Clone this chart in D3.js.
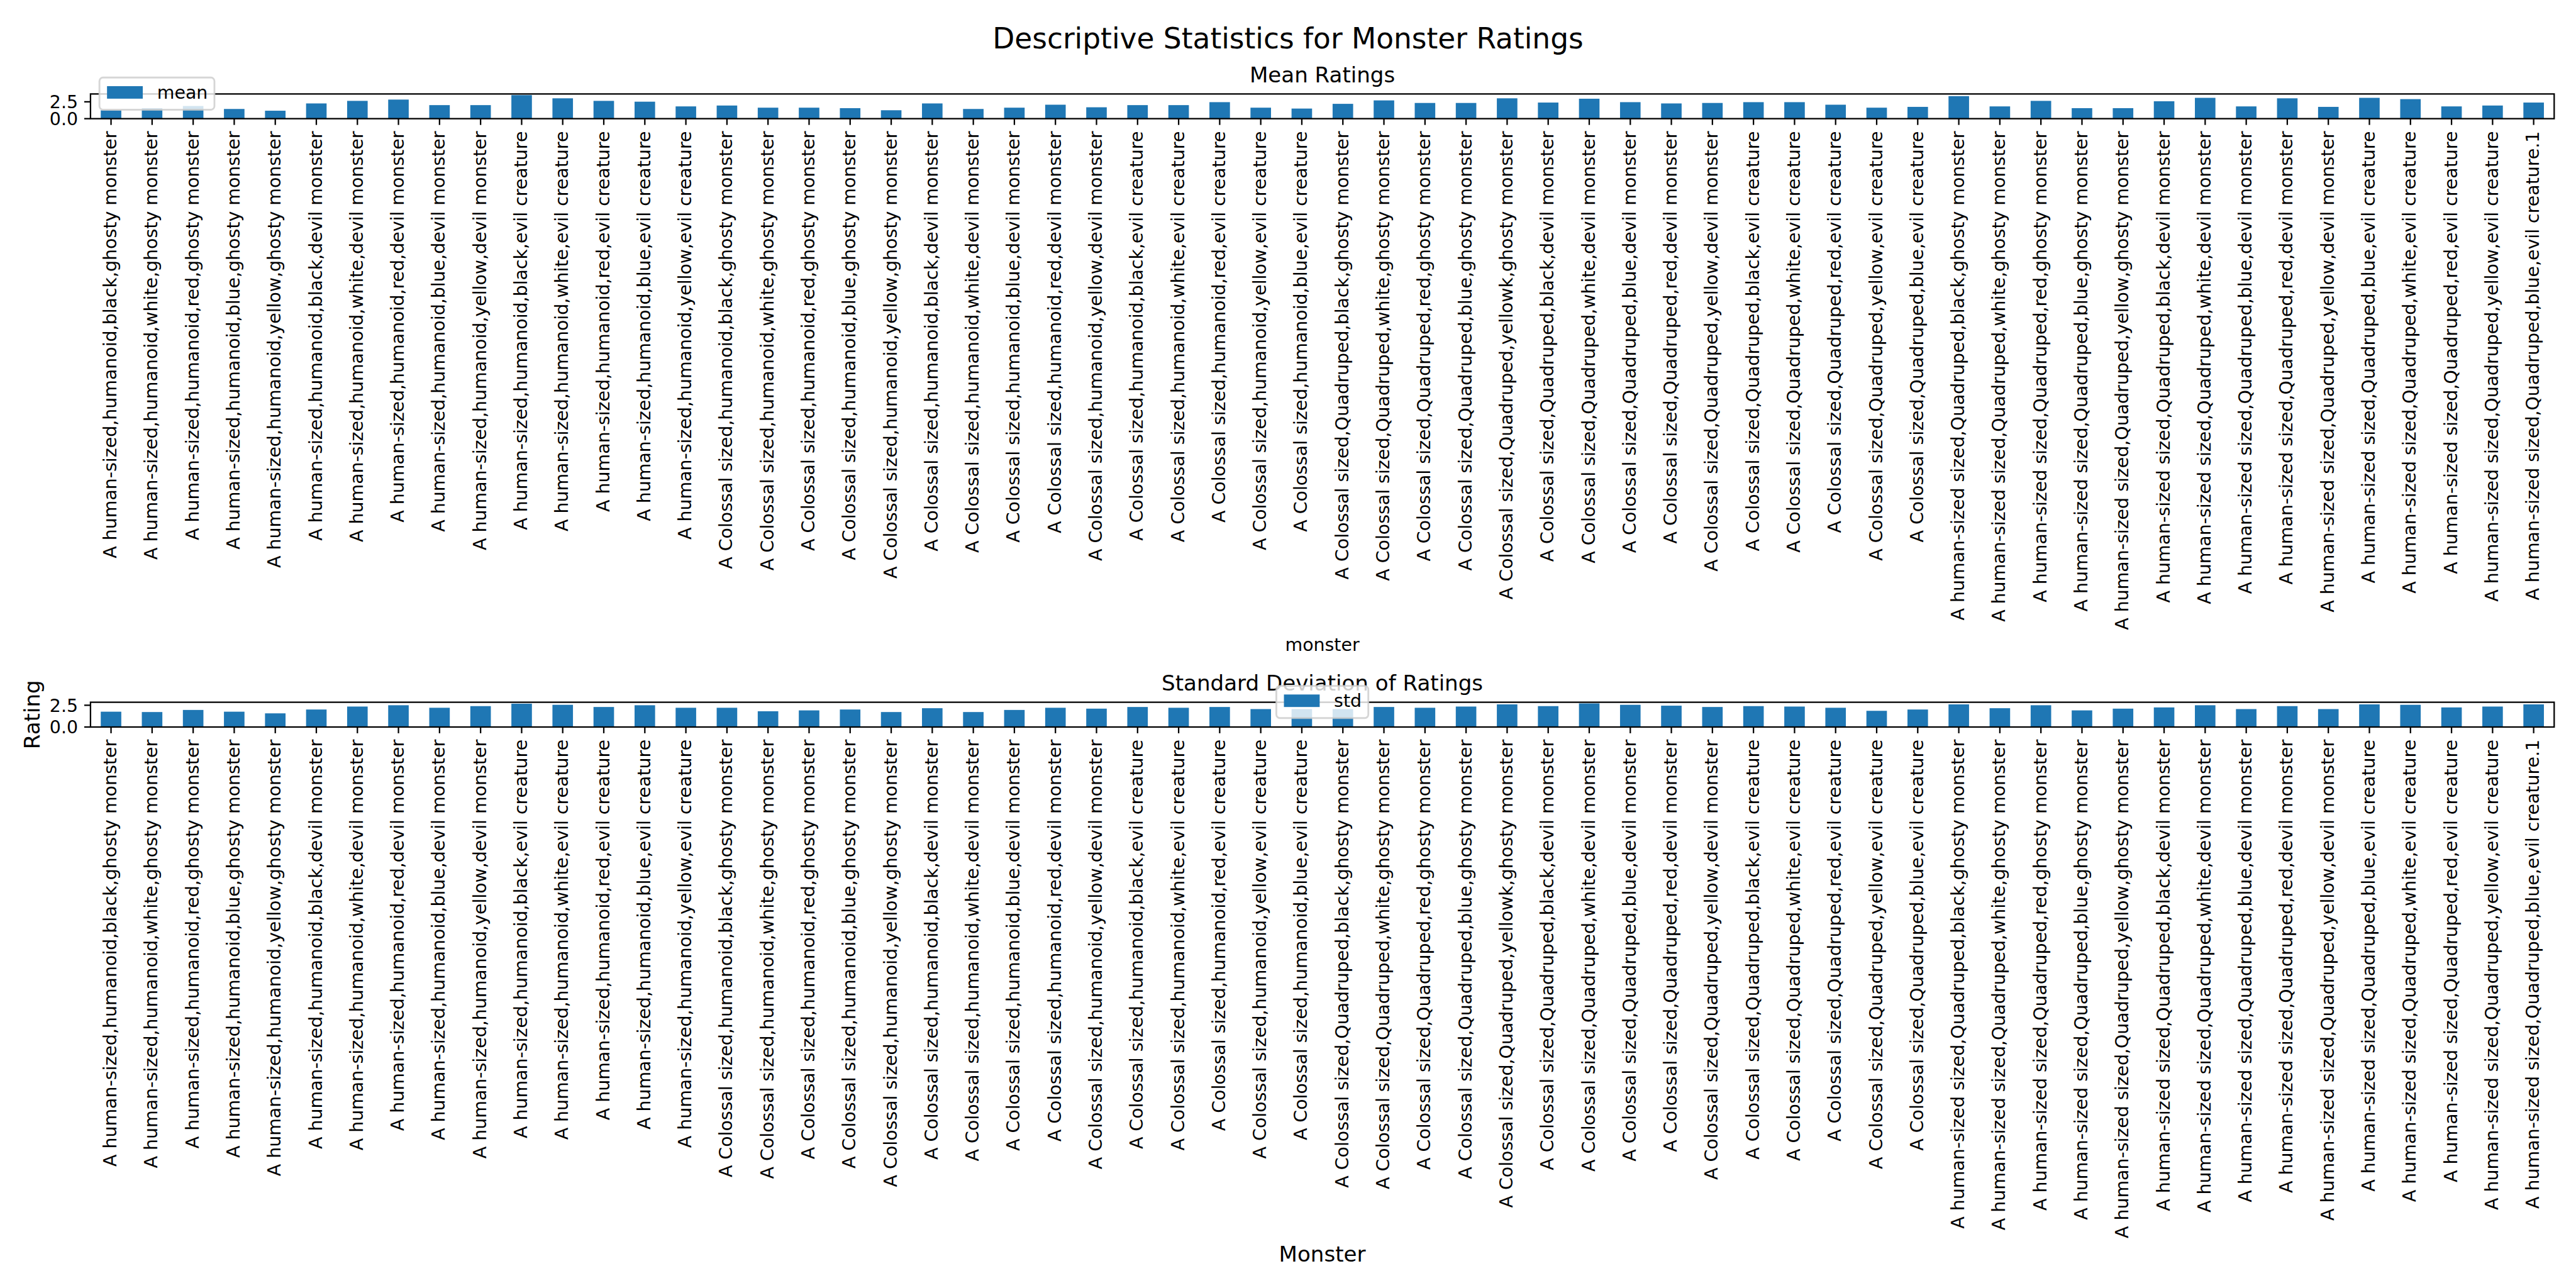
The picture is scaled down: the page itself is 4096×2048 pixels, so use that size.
<!DOCTYPE html>
<html><head><meta charset="utf-8">
<script src="https://cdn.jsdelivr.net/npm/d3@7"></script>
<style>
body{margin:0;background:#fff}
svg{display:block}
text{font-family:"DejaVu Sans",sans-serif;fill:#000}
</style>
</head><body>
<svg id="chart" width="4096" height="2048"></svg>
<script>
// ---------------- data ----------------
const monsters = [
  "A human-sized,humanoid,black,ghosty monster",
  "A human-sized,humanoid,white,ghosty monster",
  "A human-sized,humanoid,red,ghosty monster",
  "A human-sized,humanoid,blue,ghosty monster",
  "A human-sized,humanoid,yellow,ghosty monster",
  "A human-sized,humanoid,black,devil monster",
  "A human-sized,humanoid,white,devil monster",
  "A human-sized,humanoid,red,devil monster",
  "A human-sized,humanoid,blue,devil monster",
  "A human-sized,humanoid,yellow,devil monster",
  "A human-sized,humanoid,black,evil creature",
  "A human-sized,humanoid,white,evil creature",
  "A human-sized,humanoid,red,evil creature",
  "A human-sized,humanoid,blue,evil creature",
  "A human-sized,humanoid,yellow,evil creature",
  "A Colossal sized,humanoid,black,ghosty monster",
  "A Colossal sized,humanoid,white,ghosty monster",
  "A Colossal sized,humanoid,red,ghosty monster",
  "A Colossal sized,humanoid,blue,ghosty monster",
  "A Colossal sized,humanoid,yellow,ghosty monster",
  "A Colossal sized,humanoid,black,devil monster",
  "A Colossal sized,humanoid,white,devil monster",
  "A Colossal sized,humanoid,blue,devil monster",
  "A Colossal sized,humanoid,red,devil monster",
  "A Colossal sized,humanoid,yellow,devil monster",
  "A Colossal sized,humanoid,black,evil creature",
  "A Colossal sized,humanoid,white,evil creature",
  "A Colossal sized,humanoid,red,evil creature",
  "A Colossal sized,humanoid,yellow,evil creature",
  "A Colossal sized,humanoid,blue,evil creature",
  "A Colossal sized,Quadruped,black,ghosty monster",
  "A Colossal sized,Quadruped,white,ghosty monster",
  "A Colossal sized,Quadruped,red,ghosty monster",
  "A Colossal sized,Quadruped,blue,ghosty monster",
  "A Colossal sized,Quadruped,yellowk,ghosty monster",
  "A Colossal sized,Quadruped,black,devil monster",
  "A Colossal sized,Quadruped,white,devil monster",
  "A Colossal sized,Quadruped,blue,devil monster",
  "A Colossal sized,Quadruped,red,devil monster",
  "A Colossal sized,Quadruped,yellow,devil monster",
  "A Colossal sized,Quadruped,black,evil creature",
  "A Colossal sized,Quadruped,white,evil creature",
  "A Colossal sized,Quadruped,red,evil creature",
  "A Colossal sized,Quadruped,yellow,evil creature",
  "A Colossal sized,Quadruped,blue,evil creature",
  "A human-sized sized,Quadruped,black,ghosty monster",
  "A human-sized sized,Quadruped,white,ghosty monster",
  "A human-sized sized,Quadruped,red,ghosty monster",
  "A human-sized sized,Quadruped,blue,ghosty monster",
  "A human-sized sized,Quadruped,yellow,ghosty monster",
  "A human-sized sized,Quadruped,black,devil monster",
  "A human-sized sized,Quadruped,white,devil monster",
  "A human-sized sized,Quadruped,blue,devil monster",
  "A human-sized sized,Quadruped,red,devil monster",
  "A human-sized sized,Quadruped,yellow,devil monster",
  "A human-sized sized,Quadruped,blue,evil creature",
  "A human-sized sized,Quadruped,white,evil creature",
  "A human-sized sized,Quadruped,red,evil creature",
  "A human-sized sized,Quadruped,yellow,evil creature",
  "A human-sized sized,Quadruped,blue,evil creature.1"
];

const meanValues = [
  1.23, 1.56, 1.88, 1.44, 1.18, 2.26, 2.64, 2.83, 2.01, 2.01,
  3.49, 3.02, 2.64, 2.52, 1.82, 1.95, 1.63, 1.63, 1.56, 1.25,
  2.26, 1.44, 1.63, 2.07, 1.69, 2.01, 2.01, 2.45, 1.63, 1.50,
  2.20, 2.71, 2.33, 2.33, 3.02, 2.39, 2.96, 2.45, 2.26, 2.33,
  2.45, 2.45, 2.07, 1.63, 1.75, 3.34, 1.82, 2.64, 1.56, 1.56,
  2.58, 3.09, 1.82, 3.02, 1.75, 3.09, 2.90, 1.82, 1.95, 2.39
];

const stdValues = [
  1.76, 1.72, 1.96, 1.76, 1.57, 2.01, 2.35, 2.50, 2.21, 2.40,
  2.68, 2.55, 2.30, 2.50, 2.21, 2.21, 1.81, 1.91, 2.01, 1.72,
  2.16, 1.72, 1.96, 2.21, 2.11, 2.30, 2.21, 2.30, 2.06, 2.06,
  2.06, 2.30, 2.21, 2.35, 2.60, 2.40, 2.71, 2.55, 2.45, 2.30,
  2.40, 2.35, 2.21, 1.86, 2.01, 2.60, 2.16, 2.50, 1.91, 2.11,
  2.25, 2.50, 2.06, 2.40, 2.06, 2.60, 2.55, 2.25, 2.35, 2.60
];

const yTickValues = [0, 2.5];
const seriesNames = ["mean", "std"];
const panelTitles = ["Mean Ratings", "Standard Deviation of Ratings"];
const xAxisLabels = ["monster", "Monster"];
const yAxisLabel = "Rating";
const figureTitle = "Descriptive Statistics for Monster Ratings";

// ---------------- layout ----------------
const PT = 300 / 72 * 0.682;          // px per point
const FS = 10 * PT, FS12 = 12 * PT, FS16 = 16 * PT;
const LW = 0.8 * PT;
const TICK = 3.5 * PT, PAD = 3.5 * PT;
const BAR = "#1f77b4";
const X0 = 143.9, X1 = 4061.3;

const svg = d3.select("#chart");

svg.append("text")
  .attr("x", 2048).attr("y", 77.1)
  .attr("text-anchor", "middle")
  .style("font-size", FS16 + "px")
  .text(figureTitle);

const x = d3.scaleBand().domain(monsters).range([X0, X1])
  .paddingInner(0.5).paddingOuter(0.25);

const panels = [
  {values: meanValues, name: seriesNames[0], title: panelTitles[0], xlabel: xAxisLabels[0], xlabelSize: FS,
   top: 149.4, bottom: 188.7, legendLoc: "lowerleft"},
  {values: stdValues, name: seriesNames[1], title: panelTitles[1], xlabel: xAxisLabels[1], xlabelSize: FS12,
   top: 1116.6, bottom: 1156.0, legendLoc: "lowercenter", ylabel: yAxisLabel}
];

panels.forEach((p, i) => {
  const g = svg.append("g");
  const y = d3.scaleLinear().domain([0, d3.max(p.values) * 1.05]).range([p.bottom, p.top]);

  const clipId = "clip" + i;
  svg.append("clipPath").attr("id", clipId).append("rect")
    .attr("x", X0).attr("y", p.top).attr("width", X1 - X0).attr("height", p.bottom - p.top);

  g.append("g").attr("clip-path", `url(#${clipId})`)
    .selectAll("rect").data(monsters).join("rect")
    .attr("x", d => x(d))
    .attr("width", x.bandwidth())
    .attr("y", (d, j) => y(p.values[j]))
    .attr("height", (d, j) => y(0) - y(p.values[j]))
    .attr("fill", BAR);

  // x axis
  const xa = g.append("g").attr("transform", `translate(0,${p.bottom})`)
    .call(d3.axisBottom(x).tickSize(TICK).tickPadding(0).offset(0));
  xa.attr("font-size", null).attr("font-family", null);
  xa.select(".domain").remove();
  xa.selectAll(".tick line").attr("stroke", "#000").attr("stroke-width", LW);
  xa.selectAll(".tick text")
    .attr("transform", "rotate(-90)")
    .attr("x", -(TICK + PAD)).attr("y", 0).attr("dy", "0.30em")
    .attr("text-anchor", "end")
    .style("font-size", FS + "px");

  let maxLen = 0;
  xa.selectAll(".tick text").each(function () {
    maxLen = Math.max(maxLen, this.getComputedTextLength());
  });
  const labelsBottom = p.bottom + TICK + PAD + maxLen;

  // y axis
  const ya = g.append("g").attr("transform", `translate(${X0},0)`)
    .call(d3.axisLeft(y).tickValues(yTickValues).tickFormat(d3.format(".1f"))
      .tickSize(TICK).tickPadding(PAD).offset(0));
  ya.attr("font-size", null).attr("font-family", null);
  ya.select(".domain").remove();
  ya.selectAll(".tick line").attr("stroke", "#000").attr("stroke-width", LW);
  ya.selectAll(".tick text").attr("dy", "0.36em").style("font-size", FS + "px");

  // frame (spines)
  g.append("rect")
    .attr("x", X0).attr("y", p.top).attr("width", X1 - X0).attr("height", p.bottom - p.top)
    .attr("fill", "none").attr("stroke", "#000").attr("stroke-width", LW);

  // title
  g.append("text")
    .attr("x", (X0 + X1) / 2).attr("y", p.top - 6 * PT - 0.05 * FS12)
    .attr("text-anchor", "middle")
    .style("font-size", FS12 + "px")
    .text(p.title);

  // x label
  g.append("text")
    .attr("x", (X0 + X1) / 2)
    .attr("y", labelsBottom + 4 * PT + 0.76 * p.xlabelSize)
    .attr("text-anchor", "middle")
    .style("font-size", p.xlabelSize + "px")
    .text(p.xlabel);

  if (p.ylabel) {
    g.append("text")
      .attr("transform", `translate(62.7,${(p.top + p.bottom) / 2}) rotate(-90)`)
      .attr("text-anchor", "middle")
      .style("font-size", FS12 + "px")
      .text(p.ylabel);
  }

  // legend
  const lg = g.append("g");
  const tmp = lg.append("text").style("font-size", FS + "px").text(p.name);
  const tw = tmp.node().getComputedTextLength();
  const bpad = 0.4 * FS, hl = 2 * FS, htp = 0.8 * FS, bap = 0.5 * FS;
  const lw = 2 * bpad + hl + htp + tw;
  const lh = 51.2;
  let lx, ly;
  if (p.legendLoc === "lowerleft") { lx = X0 + bap; }
  else { lx = (X0 + X1) / 2 - lw / 2; }
  ly = p.bottom - bap - lh;
  lg.insert("rect", "text")
    .attr("x", lx).attr("y", ly).attr("width", lw).attr("height", lh)
    .attr("rx", 0.2 * FS).attr("ry", 0.2 * FS)
    .attr("fill", "#fff").attr("fill-opacity", 0.8)
    .attr("stroke", "#ccc").attr("stroke-opacity", 0.8).attr("stroke-width", 1.0 * PT);
  lg.insert("rect", "text")
    .attr("x", lx + bpad + 0.7).attr("y", ly + 13.7)
    .attr("width", hl).attr("height", 0.7 * FS)
    .attr("fill", BAR);
  tmp.attr("x", lx + bpad + hl + htp + 0.7).attr("y", ly + 33.7);
});
</script>
</body></html>
